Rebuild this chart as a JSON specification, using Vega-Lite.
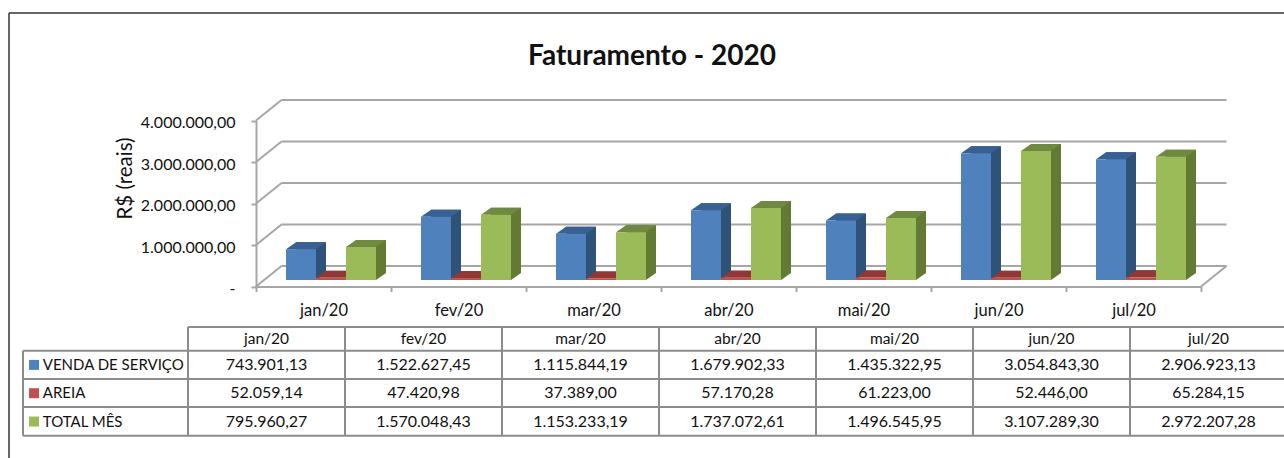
{"$schema":"https://vega.github.io/schema/vega-lite/v6.json","width":1284,"height":458,"autosize":"none","padding":0,"background":"white",
"title":{"text":"Faturamento - 2020","font":"Lato","fontSize":28,"fontWeight":"bold","color":"#111","anchor":"middle","dx":10,"dy":85,"baseline":"middle","offset":0},
"config":{"view":{"stroke":null},"font":"Lato","locale":{"number":{"decimal":",","thousands":".","grouping":[3],"currency":["R$",""]}}},
"datasets":{
"bars":[
{"month":"jan/20","series":"VENDA DE SERVIÇO","value":743901.13,"label":"743.901,13"},{"month":"fev/20","series":"VENDA DE SERVIÇO","value":1522627.45,"label":"1.522.627,45"},{"month":"mar/20","series":"VENDA DE SERVIÇO","value":1115844.19,"label":"1.115.844,19"},{"month":"abr/20","series":"VENDA DE SERVIÇO","value":1679902.33,"label":"1.679.902,33"},{"month":"mai/20","series":"VENDA DE SERVIÇO","value":1435322.95,"label":"1.435.322,95"},{"month":"jun/20","series":"VENDA DE SERVIÇO","value":3054843.30,"label":"3.054.843,30"},{"month":"jul/20","series":"VENDA DE SERVIÇO","value":2906923.13,"label":"2.906.923,13"},
{"month":"jan/20","series":"AREIA","value":52059.14,"label":"52.059,14"},{"month":"fev/20","series":"AREIA","value":47420.98,"label":"47.420,98"},{"month":"mar/20","series":"AREIA","value":37389.00,"label":"37.389,00"},{"month":"abr/20","series":"AREIA","value":57170.28,"label":"57.170,28"},{"month":"mai/20","series":"AREIA","value":61223.00,"label":"61.223,00"},{"month":"jun/20","series":"AREIA","value":52446.00,"label":"52.446,00"},{"month":"jul/20","series":"AREIA","value":65284.15,"label":"65.284,15"},
{"month":"jan/20","series":"TOTAL MÊS","value":795960.27,"label":"795.960,27"},{"month":"fev/20","series":"TOTAL MÊS","value":1570048.43,"label":"1.570.048,43"},{"month":"mar/20","series":"TOTAL MÊS","value":1153233.19,"label":"1.153.233,19"},{"month":"abr/20","series":"TOTAL MÊS","value":1737072.61,"label":"1.737.072,61"},{"month":"mai/20","series":"TOTAL MÊS","value":1496545.95,"label":"1.496.545,95"},{"month":"jun/20","series":"TOTAL MÊS","value":3107289.30,"label":"3.107.289,30"},{"month":"jul/20","series":"TOTAL MÊS","value":2972207.28,"label":"2.972.207,28"}],
"header":[{"month":"jan/20","series":"MÊS"},{"month":"fev/20","series":"MÊS"},{"month":"mar/20","series":"MÊS"},{"month":"abr/20","series":"MÊS"},{"month":"mai/20","series":"MÊS"},{"month":"jun/20","series":"MÊS"},{"month":"jul/20","series":"MÊS"}],
"legend":[{"series":"VENDA DE SERVIÇO"},{"series":"AREIA"},{"series":"TOTAL MÊS"}],
"levels":[{"level":0,"from":0,"to":7},{"level":1000000,"from":0,"to":7},{"level":2000000,"from":0,"to":7},{"level":3000000,"from":0,"to":7},{"level":4000000,"from":0,"to":7}],
"floorRight":[{"level":0,"from":7}],
"frame":[{"a":0,"b":1,"at":0}],
"hlines":[{"row":-1,"from":0,"to":7},{"row":0,"from":-1,"to":7},{"row":1,"from":-1,"to":7},{"row":2,"from":-1,"to":7},{"row":3,"from":-1,"to":7}],
"vlines":[{"col":-1,"from":0,"to":3},{"col":0,"from":-1,"to":3},{"col":1,"from":-1,"to":3},{"col":2,"from":-1,"to":3},{"col":3,"from":-1,"to":3},{"col":4,"from":-1,"to":3},{"col":5,"from":-1,"to":3},{"col":6,"from":-1,"to":3}]
},
"resolve":{"scale":{"x":"independent","y":"independent","color":"independent","xOffset":"independent"},"axis":{"x":"independent","y":"independent"},"legend":{"color":"independent"}},
"layer":[
{"data":{"name":"frame"},"mark":{"type":"rule","color":"#333","strokeWidth":1.5},"encoding":{"x":{"field":"a","type":"quantitative","axis":null,"scale":{"domain":[0,1],"range":[9,1284]}},"x2":{"field":"b"},"y":{"field":"at","type":"quantitative","axis":null,"scale":{"domain":[0,1],"range":[13,458]}}}},
{"data":{"name":"frame"},"mark":{"type":"rule","color":"#333","strokeWidth":1.5},"encoding":{"x":{"field":"at","type":"quantitative","axis":null,"scale":{"domain":[0,1],"range":[9,1284]}},"y":{"field":"a","type":"quantitative","axis":null,"scale":{"domain":[0,1],"range":[13,458]}},"y2":{"field":"b"}}},
{"data":{"name":"levels"},"mark":{"type":"rule","color":"#a6a6a6","strokeWidth":2},"encoding":{"x":{"field":"from","type":"quantitative","axis":null,"scale":{"domain":[0,7],"range":[281.5,1226.5]}},"x2":{"field":"to"},"y":{"field":"level","type":"quantitative","axis":null,"scale":{"domain":[0,4000000],"range":[266,100]}}}},
{"data":{"name":"levels"},"mark":{"type":"rule","color":"#a6a6a6","strokeWidth":2,"x2Offset":25.5,"y2Offset":-20.5},"encoding":{"x":{"field":"from","type":"quantitative","axis":null,"scale":{"domain":[0,7],"range":[256,1201]}},"x2":{"field":"from"},"y":{"field":"level","type":"quantitative","scale":{"domain":[0,4000000],"range":[286.5,120.5]},"axis":{"orient":"left","offset":-256,"values":[0,1000000,2000000,3000000,4000000],"format":",.2f","labelExpr":"datum.value===0?'-\u00a0\u00a0\u00a0':datum.label","labelFont":"Lato","labelFontSize":16,"labelColor":"#111","labelPadding":16,"labelOffset":2,"tickSize":5,"tickColor":"#a6a6a6","tickWidth":2,"domainColor":"#a6a6a6","domainWidth":2,"grid":false,"title":"R$ (reais)","titleFont":"Lato","titleFontSize":20.5,"titleFontWeight":"normal","titleColor":"#111","titleAngle":-90,"titleX":-131,"titleY":178,"titleAlign":"center","titleBaseline":"middle"}},"y2":{"field":"level"}}},
{"data":{"name":"floorRight"},"mark":{"type":"rule","color":"#a6a6a6","strokeWidth":2,"x2Offset":25.5,"y2Offset":-20.5},"encoding":{"x":{"field":"from","type":"quantitative","axis":null,"scale":{"domain":[0,7],"range":[256,1201]}},"x2":{"field":"from"},"y":{"field":"level","type":"quantitative","axis":null,"scale":{"domain":[0,4000000],"range":[286.5,120.5]}},"y2":{"field":"level"}}},
{"data":{"name":"bars"},"mark":{"type":"bar"},"encoding":{"x":{"field":"month","type":"nominal","sort":null,"axis":null,"scale":{"domain":["jan/20","fev/20","mar/20","abr/20","mai/20","jun/20","jul/20"],"range":[256,1201],"paddingInner":0,"paddingOuter":0}},"xOffset":{"field":"series","type":"nominal","sort":null,"scale":{"domain":["VENDA DE SERVIÇO","AREIA","TOTAL MÊS"],"range":[40,130],"paddingInner":0,"paddingOuter":0}},"y":{"field":"value","type":"quantitative","stack":null,"axis":null,"scale":{"domain":[0,4000000],"range":[273,107]}},"color":{"field":"series","type":"nominal","legend":null,"scale":{"domain":["VENDA DE SERVIÇO","AREIA","TOTAL MÊS"],"range":["#2f5279","#8c3634","#637a35"]}}}},
{"data":{"name":"bars"},"mark":{"type":"point","filled":true,"opacity":1,"size":4,"shape":"M15 -7 L25 -7 L15 0 Z"},"encoding":{"x":{"field":"month","type":"nominal","sort":null,"axis":null,"scale":{"domain":["jan/20","fev/20","mar/20","abr/20","mai/20","jun/20","jul/20"],"range":[256,1201],"paddingInner":0,"paddingOuter":0}},"xOffset":{"field":"series","type":"nominal","sort":null,"scale":{"type":"point","padding":0,"domain":["VENDA DE SERVIÇO","AREIA","TOTAL MÊS"],"range":[45,105]}},"y":{"datum":0,"type":"quantitative","axis":null,"scale":{"domain":[0,4000000],"range":[280,114]}},"color":{"field":"series","type":"nominal","legend":null,"scale":{"domain":["VENDA DE SERVIÇO","AREIA","TOTAL MÊS"],"range":["#2f5279","#8c3634","#637a35"]}}}},
{"data":{"name":"bars"},"mark":{"type":"point","filled":true,"opacity":1,"size":4,"shape":"M-15 0 L15 0 L25 -7 L-5 -7 Z"},"encoding":{"x":{"field":"month","type":"nominal","sort":null,"axis":null,"scale":{"domain":["jan/20","fev/20","mar/20","abr/20","mai/20","jun/20","jul/20"],"range":[256,1201],"paddingInner":0,"paddingOuter":0}},"xOffset":{"field":"series","type":"nominal","sort":null,"scale":{"type":"point","padding":0,"domain":["VENDA DE SERVIÇO","AREIA","TOTAL MÊS"],"range":[45,105]}},"y":{"field":"value","type":"quantitative","axis":null,"scale":{"domain":[0,4000000],"range":[280,114]}},"color":{"field":"series","type":"nominal","legend":null,"scale":{"domain":["VENDA DE SERVIÇO","AREIA","TOTAL MÊS"],"range":["#386093","#8f3836","#6f8a40"]}}}},
{"data":{"name":"bars"},"mark":{"type":"bar"},"encoding":{"x":{"field":"month","type":"nominal","sort":null,"title":null,"scale":{"domain":["jan/20","fev/20","mar/20","abr/20","mai/20","jun/20","jul/20"],"range":[256,1201],"paddingInner":0,"paddingOuter":0},"axis":{"orient":"bottom","offset":-171.5,"tickBand":"extent","tickSize":5,"tickColor":"#a6a6a6","tickWidth":2,"domainColor":"#a6a6a6","domainWidth":2,"labelAngle":0,"labelFont":"Lato","labelFontSize":16.5,"labelColor":"#111","labelPadding":11,"grid":false}},"xOffset":{"field":"series","type":"nominal","sort":null,"scale":{"domain":["VENDA DE SERVIÇO","AREIA","TOTAL MÊS"],"range":[30,120],"paddingInner":0,"paddingOuter":0}},"y":{"field":"value","type":"quantitative","stack":null,"axis":null,"scale":{"domain":[0,4000000],"range":[280,114]}},"color":{"field":"series","type":"nominal","legend":null,"scale":{"domain":["VENDA DE SERVIÇO","AREIA","TOTAL MÊS"],"range":["#4f81bd","#c0504d","#9bbb59"]}}}},
{"data":{"name":"hlines"},"mark":{"type":"rule","color":"#8c8c8c","strokeWidth":2},"encoding":{"x":{"field":"from","type":"quantitative","axis":null,"scale":{"domain":[-1,0,7],"range":[23,188,1287]}},"x2":{"field":"to"},"y":{"field":"row","type":"quantitative","axis":null,"scale":{"domain":[-1,0,1,2,3],"range":[327,350.7,379,407,435.7]}}}},
{"data":{"name":"vlines"},"mark":{"type":"rule","color":"#8c8c8c","strokeWidth":2},"encoding":{"x":{"field":"col","type":"quantitative","axis":null,"scale":{"domain":[-1,0,7],"range":[23,188,1287]}},"y":{"field":"from","type":"quantitative","axis":null,"scale":{"domain":[-1,0,1,2,3],"range":[327,350.7,379,407,435.7]}},"y2":{"field":"to"}}},
{"data":{"name":"header"},"mark":{"type":"text","font":"Lato","fontSize":15.5,"color":"#111","yOffset":2.5},"encoding":{"x":{"field":"month","type":"nominal","sort":null,"axis":null,"scale":{"domain":["jan/20","fev/20","mar/20","abr/20","mai/20","jun/20","jul/20"],"range":[188,1287],"paddingInner":0,"paddingOuter":0}},"y":{"field":"series","type":"nominal","axis":null,"scale":{"domain":["MÊS","VENDA DE SERVIÇO","AREIA","TOTAL MÊS"],"range":[322.4,435.7],"paddingInner":0,"paddingOuter":0}},"text":{"field":"month"}}},
{"data":{"name":"bars"},"mark":{"type":"text","font":"Lato","fontSize":16,"color":"#111"},"encoding":{"x":{"field":"month","type":"nominal","sort":null,"axis":null,"scale":{"domain":["jan/20","fev/20","mar/20","abr/20","mai/20","jun/20","jul/20"],"range":[188,1287],"paddingInner":0,"paddingOuter":0}},"y":{"field":"series","type":"nominal","axis":null,"scale":{"domain":["MÊS","VENDA DE SERVIÇO","AREIA","TOTAL MÊS"],"range":[322.4,435.7],"paddingInner":0,"paddingOuter":0}},"text":{"field":"label"}}},
{"data":{"name":"legend"},"mark":{"type":"text","font":"Lato","fontSize":15,"color":"#111","align":"left"},"encoding":{"x":{"datum":-0.88,"type":"quantitative","axis":null,"scale":{"domain":[-1,0,7],"range":[23,188,1287]}},"y":{"field":"series","type":"nominal","axis":null,"scale":{"domain":["MÊS","VENDA DE SERVIÇO","AREIA","TOTAL MÊS"],"range":[322.4,435.7],"paddingInner":0,"paddingOuter":0}},"text":{"field":"series"}}},
{"data":{"name":"legend"},"mark":{"type":"square","filled":true,"opacity":1,"size":100},"encoding":{"x":{"datum":-0.933,"type":"quantitative","axis":null,"scale":{"domain":[-1,0,7],"range":[23,188,1287]}},"y":{"field":"series","type":"nominal","axis":null,"scale":{"domain":["MÊS","VENDA DE SERVIÇO","AREIA","TOTAL MÊS"],"range":[322.4,435.7],"paddingInner":0,"paddingOuter":0}},"color":{"field":"series","type":"nominal","legend":null,"scale":{"domain":["VENDA DE SERVIÇO","AREIA","TOTAL MÊS"],"range":["#4f81bd","#c0504d","#9bbb59"]}}}}
]}
